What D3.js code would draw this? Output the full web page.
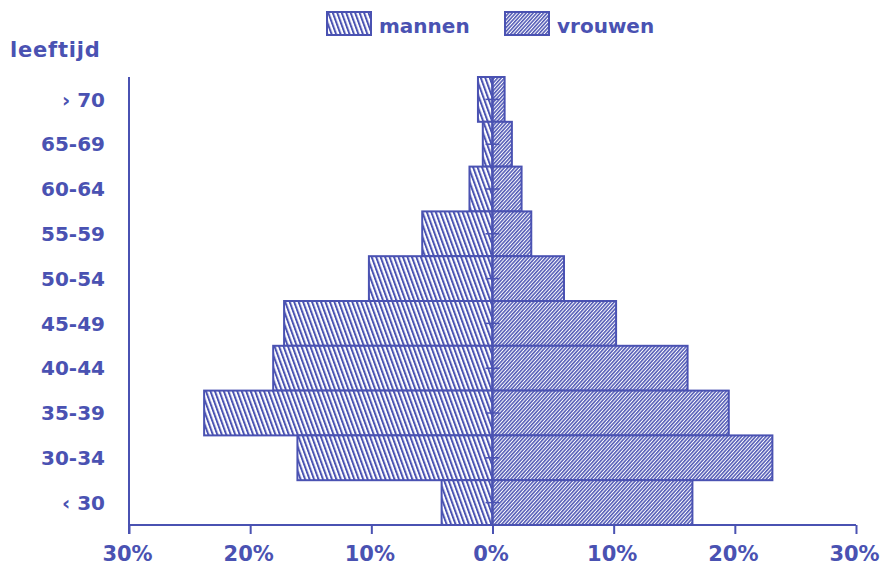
<!DOCTYPE html>
<html>
<head>
<meta charset="utf-8">
<script src="https://cdn.jsdelivr.net/npm/d3@7"></script>
<style>
  body { margin: 0; background: #fff; }
  text { font-family: "DejaVu Sans", sans-serif; font-weight: bold; fill: #4a52b2; }
</style>
</head>
<body>
<div id="chart"></div>
<script>
// leeftijdsopbouw, percentages per groep
var ages = ["› 70", "65-69", "60-64", "55-59", "50-54", "45-49", "40-44", "35-39", "30-34", "‹ 30"];
var mannen = [1.2, 0.8, 1.9, 5.8, 10.2, 17.2, 18.1, 23.8, 16.1, 4.2];
var vrouwen = [1.0, 1.6, 2.4, 3.2, 5.9, 10.2, 16.1, 19.5, 23.1, 16.5];
var xTicks = [-30, -20, -10, 0, 10, 20, 30];
var legendNames = ["mannen", "vrouwen"];

var blue = "#4a52b2";
var W = 881, H = 568;

var svg = d3.select("#chart").append("svg")
  .attr("width", W)
  .attr("height", H);

var defs = svg.append("defs");

// arcering mannen: steil "\\\"
var pm = defs.append("pattern")
  .attr("id", "hatchM")
  .attr("patternUnits", "userSpaceOnUse")
  .attr("width", 4.2).attr("height", 10)
  .attr("patternTransform", "rotate(-20)");
pm.append("rect").attr("width", 4.2).attr("height", 10).attr("fill", "#fff");
pm.append("line")
  .attr("x1", 1).attr("y1", 0).attr("x2", 1).attr("y2", 10)
  .attr("stroke", blue).attr("stroke-width", 2);

// arcering vrouwen: dicht "///"
var pv = defs.append("pattern")
  .attr("id", "hatchV")
  .attr("patternUnits", "userSpaceOnUse")
  .attr("width", 2.6).attr("height", 10)
  .attr("patternTransform", "rotate(42)");
pv.append("rect").attr("width", 2.6).attr("height", 10).attr("fill", "#fff");
pv.append("line")
  .attr("x1", 0.8).attr("y1", 0).attr("x2", 0.8).attr("y2", 10)
  .attr("stroke", blue).attr("stroke-width", 1.5);

var x = d3.scaleLinear().domain([-30, 30]).range([129, 856]);
var y = d3.scaleBand().domain(ages).range([77, 525]).padding(0);

var rows = ages.map(function(a, i) {
  return { age: a, m: mannen[i], v: vrouwen[i] };
});

// staven mannen
svg.selectAll(".barM")
  .data(rows)
  .enter().append("rect")
  .attr("class", "barM")
  .attr("x", function(d) { return x(-d.m); })
  .attr("y", function(d) { return y(d.age); })
  .attr("width", function(d) { return x(0) - x(-d.m); })
  .attr("height", y.bandwidth())
  .attr("fill", "url(#hatchM)")
  .attr("stroke", blue)
  .attr("stroke-width", 2);

// staven vrouwen
svg.selectAll(".barV")
  .data(rows)
  .enter().append("rect")
  .attr("class", "barV")
  .attr("x", x(0))
  .attr("y", function(d) { return y(d.age); })
  .attr("width", function(d) { return x(d.v) - x(0); })
  .attr("height", y.bandwidth())
  .attr("fill", "url(#hatchV)")
  .attr("stroke", blue)
  .attr("stroke-width", 2);

// middenlijn met streepjes
svg.append("line")
  .attr("x1", x(0)).attr("x2", x(0))
  .attr("y1", y.range()[0]).attr("y2", y.range()[1])
  .attr("stroke", blue).attr("stroke-width", 2);
svg.selectAll(".midTick")
  .data(ages)
  .enter().append("line")
  .attr("x1", x(0) - 7).attr("x2", x(0) + 7)
  .attr("y1", function(d) { return y(d) + y.bandwidth() / 2; })
  .attr("y2", function(d) { return y(d) + y.bandwidth() / 2; })
  .attr("stroke", blue).attr("stroke-width", 1.5);

// x-as
var xAxis = d3.axisBottom(x)
  .tickValues(xTicks)
  .tickSize(9)
  .tickPadding(12)
  .tickFormat(function(d) { return Math.abs(d) + "%"; });

var gx = svg.append("g")
  .attr("transform", "translate(0," + y.range()[1] + ")")
  .call(xAxis);
gx.select(".domain").attr("stroke", blue).attr("stroke-width", 2).attr("d", "M" + x(-30) + ",0H" + x(30));
gx.selectAll(".tick line").attr("stroke", blue).attr("stroke-width", 2);
gx.selectAll(".tick text")
  .attr("fill", blue)
  .attr("dx", -2)
  .style("font-family", "DejaVu Sans, sans-serif")
  .style("font-weight", "bold")
  .style("font-size", "21px");

// y-as
svg.append("line")
  .attr("x1", x(-30)).attr("x2", x(-30))
  .attr("y1", y.range()[0]).attr("y2", y.range()[1] + 9)
  .attr("stroke", blue).attr("stroke-width", 2);

svg.selectAll(".ageLabel")
  .data(ages)
  .enter().append("text")
  .attr("class", "ageLabel")
  .attr("x", 105)
  .attr("y", function(d) { return y(d) + y.bandwidth() / 2; })
  .attr("dy", "0.36em")
  .attr("text-anchor", "end")
  .style("font-size", "20px")
  .text(function(d) { return d; });

svg.append("text")
  .attr("x", 10)
  .attr("y", 57)
  .style("font-size", "21px")
  .style("letter-spacing", "0.8px")
  .text("leeftijd");

// legenda
var legend = svg.selectAll(".legend")
  .data(legendNames)
  .enter().append("g")
  .attr("class", "legend")
  .attr("transform", function(d, i) { return "translate(" + (327 + i * 178) + ",12)"; });
legend.append("rect")
  .attr("width", 44).attr("height", 23)
  .attr("fill", function(d, i) { return i === 0 ? "url(#hatchM)" : "url(#hatchV)"; })
  .attr("stroke", blue).attr("stroke-width", 2);
legend.append("text")
  .attr("x", 52)
  .attr("y", 21)
  .style("font-size", "20px")
  .text(function(d) { return d; });
</script>
</body>
</html>
